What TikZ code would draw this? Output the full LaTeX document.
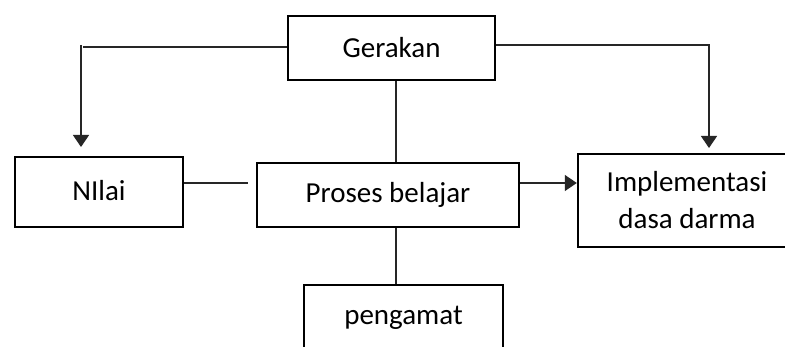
\documentclass[tikz,border=0pt]{standalone}
\usepackage{fontspec}
\setmainfont{Carlito}
\usetikzlibrary{arrows.meta}
\begin{document}
\begin{tikzpicture}[x=1pt,y=-1pt,
  box/.style={draw, line width=2.4pt, inner sep=0pt, align=center, font=\fontsize{29}{37}\selectfont},
  conn/.style={line width=1.3pt, draw=black!85},
  arr/.style={conn, -{Triangle[length=12pt,width=16pt]}}]
\useasboundingbox (0,0) rectangle (785,347);
\clip (0,0) rectangle (785,347);
\fill[white] (0,0) rectangle (785,347);
\node[box, minimum width=207pt, minimum height=64pt] (ger) at (391.5,48) {Gerakan};
\node[box, minimum width=168pt, minimum height=70pt] (nil) at (99,192) {\raisebox{4pt}{NIlai}};
\node[box, minimum width=262pt, minimum height=64pt] (pro) at (388,195) {Proses belajar};
\node[box, minimum width=218pt, minimum height=93pt] (imp) at (687,200.5) {Implementasi\\dasa darma};
\node[box, minimum width=199pt, minimum height=66pt] (pen) at (403.5,318) {pengamat};
\coordinate (lc) at (81,47);
\coordinate (lt) at (81,147);
\coordinate (rc) at (709,45);
\coordinate (rt) at (709,148);
\coordinate (pl) at (248,183);
\draw[conn] (ger.west |- lc) -- (83,47);
\draw[arr] (81,45) -- (lt);
\draw[arr] (ger.east |- rc) -- (rc) -- (rt);
\draw[conn] (ger.south -| 396,0) -- (pro.north -| 396,0);
\draw[conn] (pro.south -| 396,0) -- (pen.north -| 396,0);
\draw[conn] (nil.east |- pl) -- (pl);
\draw[arr] (pro.east |- 0,183) -- (imp.west |- 0,183);
\end{tikzpicture}
\end{document}
